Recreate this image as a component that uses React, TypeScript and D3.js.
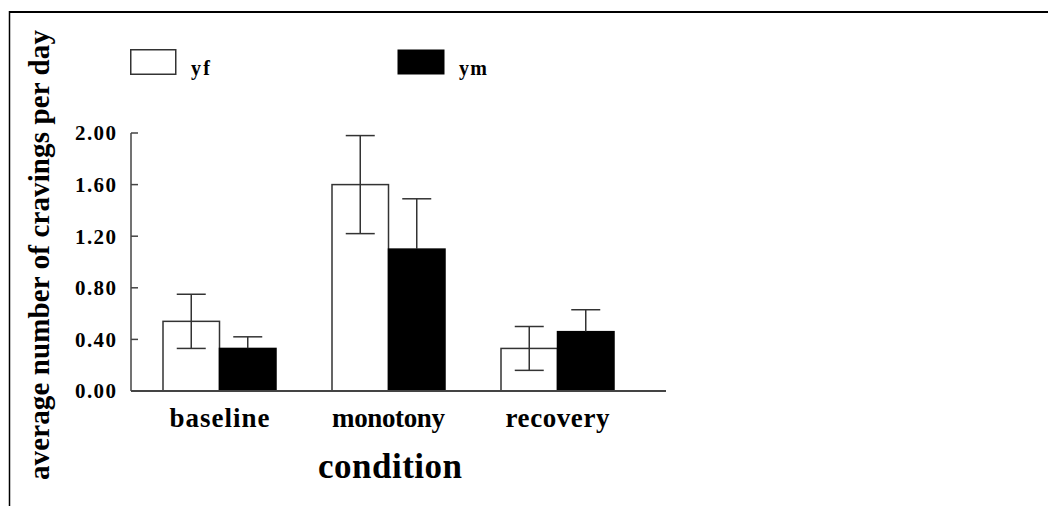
import React from "react";
import * as d3 from "d3";

const categories = ["baseline", "monotony", "recovery"];
const seriesNames = ["yf", "ym"];
const yfValues = [0.54, 1.6, 0.33];
const yfErrors = [0.21, 0.38, 0.17];
const ymValues = [0.33, 1.1, 0.46];
const ymErrors = [0.09, 0.39, 0.17];
const yTicks = [0, 0.4, 0.8, 1.2, 1.6, 2.0];

const W = 1048;
const H = 506;
const FONT = "'Liberation Serif', 'Times New Roman', serif";

export default function App() {
  const y = d3.scaleLinear().domain([0, 2]).range([391, 133]);
  const x0 = d3.scaleBand<string>().domain(categories).range([135, 642]).paddingInner(0).paddingOuter(0);
  const groupW = 113;
  const x1 = d3.scaleBand<string>().domain(seriesNames).range([0, groupW]);
  const series = [
    { name: "yf", values: yfValues, errors: yfErrors, fill: "#fff" },
    { name: "ym", values: ymValues, errors: ymErrors, fill: "#000" },
  ];
  const capHalf = 14.5;
  const axisColor = "#444";
  const fmt = d3.format(".2f");

  return (
    <svg width={W} height={H} style={{ position: "absolute", left: 0, top: 0, background: "#fff" }}>
      {/* frame */}
      <line x1={9} x2={W} y1={12} y2={12} stroke="#000" strokeWidth={2} />
      <line x1={9.5} x2={9.5} y1={11} y2={H} stroke="#000" strokeWidth={1.5} />

      {/* legend */}
      <rect x={130.75} y={49.75} width={45} height={24.5} fill="#fff" stroke="#333" strokeWidth={1.5} />
      <text x={191} y={75} fontFamily={FONT} fontWeight="bold" fontSize={20} textLength={19} lengthAdjust="spacing">{seriesNames[0]}</text>
      <rect x={397.5} y={49.5} width={47} height={25} fill="#000" />
      <text x={459} y={75} fontFamily={FONT} fontWeight="bold" fontSize={20} textLength={28} lengthAdjust="spacing">{seriesNames[1]}</text>

      {/* bars */}
      {series.map((s) =>
        categories.map((c, i) => {
          const bx = (x0(c) as number) + (x0.bandwidth() - groupW) / 2 + (x1(s.name) as number);
          const bw = x1.bandwidth();
          return (
            <rect key={s.name + c} x={bx} y={y(s.values[i])} width={bw} height={y(0) - y(s.values[i])}
              fill={s.fill} stroke={s.fill === "#000" ? "#000" : "#333"} strokeWidth={1.5} />
          );
        })
      )}
      {/* error bars */}
      {series.map((s) =>
        categories.map((c, i) => {
          const cx = (x0(c) as number) + (x0.bandwidth() - groupW) / 2 + (x1(s.name) as number) + x1.bandwidth() / 2;
          const hi = y(s.values[i] + s.errors[i]);
          const lo = y(s.values[i] - s.errors[i]);
          const col = s.fill === "#000" ? "#000" : "#333";
          return (
            <g key={"e" + s.name + c} stroke="#333" strokeWidth={1.5}>
              <line x1={cx} x2={cx} y1={hi} y2={y(s.values[i])} />
              <line x1={cx} x2={cx} y1={y(s.values[i])} y2={lo} stroke={col} />
              <line x1={cx - capHalf} x2={cx + capHalf} y1={hi} y2={hi} />
              <line x1={cx - capHalf} x2={cx + capHalf} y1={lo} y2={lo} stroke={col} />
            </g>
          );
        })
      )}

      {/* axes */}
      <line x1={131} x2={131} y1={y(2)} y2={y(0)} stroke={axisColor} strokeWidth={1.5} />
      <line x1={131} x2={666} y1={y(0)} y2={y(0)} stroke={axisColor} strokeWidth={1.8} />
      {yTicks.map((t) => (
        <g key={t}>
          <line x1={131} x2={138} y1={y(t)} y2={y(t)} stroke={axisColor} strokeWidth={1.5} />
          <text x={116} y={y(t)} dy="0.35em" textAnchor="end" fontFamily={FONT} fontWeight="bold" fontSize={21}
            textLength={41} lengthAdjust="spacing">{fmt(t)}</text>
        </g>
      ))}
      {categories.map((c) => (
        <text key={c} x={(x0(c) as number) + x0.bandwidth() / 2} y={427} textAnchor="middle" fontFamily={FONT}
          fontWeight="bold" fontSize={27} textLength={c === "baseline" ? 100 : c === "monotony" ? 113 : 104}
          lengthAdjust="spacing">{c}</text>
      ))}
      <text x={390} y={478} textAnchor="middle" fontFamily={FONT} fontWeight="bold" fontSize={35}
        textLength={144} lengthAdjust="spacing">condition</text>
      <text transform="translate(49,255) rotate(-90)" textAnchor="middle" fontFamily={FONT} fontWeight="bold"
        fontSize={29} textLength={450} lengthAdjust="spacing">average number of cravings per day</text>
    </svg>
  );
}
